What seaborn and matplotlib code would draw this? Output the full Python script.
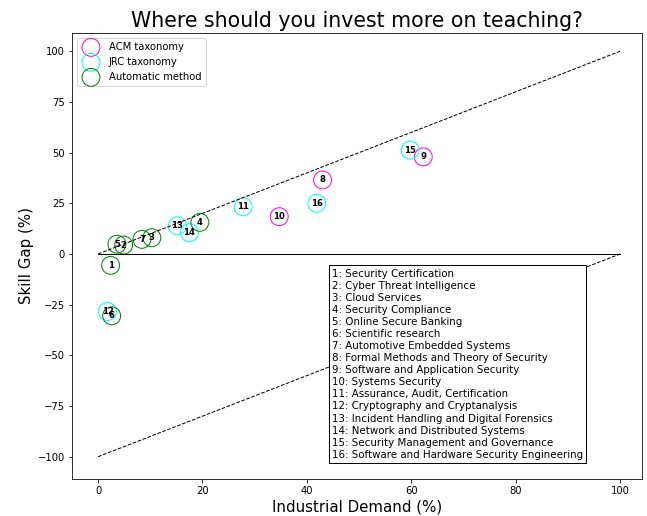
import matplotlib
matplotlib.use('Agg')
import matplotlib.pyplot as plt
import seaborn as sns
import pandas as pd

# Dữ liệu
skill_ids = list(range(1, 17))
skill_names = ['Security Certification', 'Cyber Threat Intelligence', 'Cloud Services',
               'Security Compliance', 'Online Secure Banking', 'Scientific research',
               'Automotive Embedded Systems', 'Formal Methods and Theory of Security',
               'Software and Application Security', 'Systems Security',
               'Assurance, Audit, Certification', 'Cryptography and Cryptanalysis',
               'Incident Handling and Digital Forensics', 'Network and Distributed Systems',
               'Security Management and Governance', 'Software and Hardware Security Engineering']
demand = [2.4, 4.9, 10.3, 19.5, 3.6, 2.6, 8.4, 43.0, 62.3, 34.7, 27.8, 1.8, 15.2, 17.5, 59.8, 41.9]
gap = [-5.6, 4.4, 8.0, 15.6, 4.8, -30.5, 7.2, 36.5, 47.9, 18.4, 23.3, -28.4, 13.9, 10.5, 51.2, 25.0]
source = ['Automatic method'] * 7 + ['ACM taxonomy'] * 3 + ['JRC taxonomy'] * 6

groups = ['ACM taxonomy', 'JRC taxonomy', 'Automatic method']
colors = {'ACM taxonomy': 'magenta', 'JRC taxonomy': 'cyan', 'Automatic method': 'green'}

df = pd.DataFrame({'id': skill_ids, 'demand': demand, 'gap': gap, 'source': source})

fig = plt.figure(figsize=(647 / 72, 516 / 72), dpi=72)
ax = fig.add_subplot(111)
fig.subplots_adjust(left=72 / 647, right=642 / 647, top=1 - 33 / 516, bottom=1 - 479 / 516)

# Các đường tham chiếu
ax.plot([0, 100], [0, 100], 'k--', linewidth=1)
ax.plot([0, 100], [-100, 0], 'k--', linewidth=1)
ax.plot([0, 100], [0, 0], 'k-', linewidth=1)

# Vẽ các vòng tròn rỗng theo nhóm
for g in groups:
    sub = df[df['source'] == g]
    sns.scatterplot(data=sub, x='demand', y='gap', ax=ax, s=320, color=colors[g],
                    facecolor='none', edgecolor=colors[g], linewidth=1, label=g)

# Số thứ tự trong vòng tròn
for i, x, y in zip(df['id'], df['demand'], df['gap']):
    ax.text(x, y, str(i), ha='center', va='center', fontsize=8.5, fontweight='bold')

legend_text = '\n'.join(f'{i}: {n}' for i, n in zip(skill_ids, skill_names))
ax.text(44.8, -101.5, legend_text, fontsize=10.3, ha='left', va='bottom', linespacing=1.26,
        bbox=dict(facecolor='white', edgecolor='black', boxstyle='square,pad=0.3'))

ax.legend(loc='upper left', fontsize=10)
ax.set_title('Where should you invest more on teaching?', fontsize=20.5)
ax.set_xlabel('Industrial Demand (%)', fontsize=15)
ax.set_ylabel('Skill Gap (%)', fontsize=15)
ax.set_xlim(-5, 104.2)
ax.set_ylim(-111, 109)
ax.set_xticks([0, 20, 40, 60, 80, 100])
ax.set_yticks([-100, -75, -50, -25, 0, 25, 50, 75, 100])

fig.savefig('out.png', dpi=72)
